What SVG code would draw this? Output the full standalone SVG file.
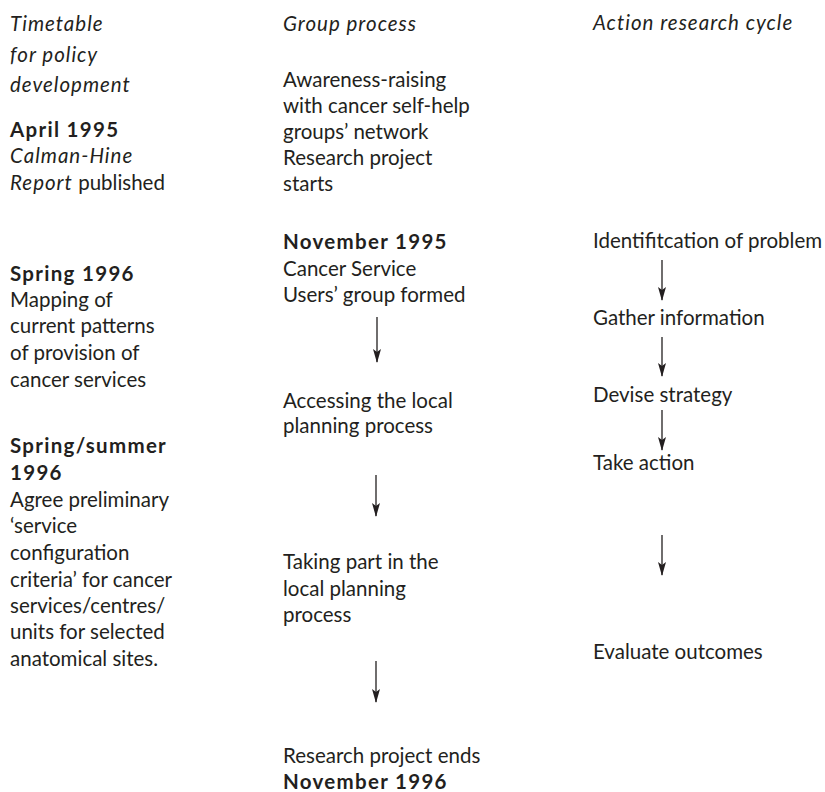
<svg xmlns="http://www.w3.org/2000/svg" width="825" height="792" viewBox="0 0 825 792">
<style>
text{font-family:Lato,"Liberation Sans",sans-serif;font-size:20.5px;fill:#231f20}
.i{font-style:italic;letter-spacing:1px}
.b{font-weight:bold;letter-spacing:1.3px}
.c line{stroke:#231f20;stroke-width:1.3}
</style>
<defs>
<marker id="ad" viewBox="0 0 8 14" refX="4" refY="13" markerWidth="8" markerHeight="14" markerUnits="userSpaceOnUse" orient="0">
<path d="M0,0 L4,3 L8,0 L4,14 Z" fill="#231f20"/>
</marker>
</defs>
<rect width="825" height="792" fill="#fff"/>
<g id="col-timetable">
<g id="h-timetable"><text class="i" x="10" y="31">Timetable</text><text class="i" x="10" y="62">for policy</text><text class="i" x="10" y="92">development</text></g>
<g id="t-april"><text class="b" x="10" y="137">April 1995</text><text x="10" y="163"><tspan class="i">Calman-Hine</tspan></text><text x="10" y="190"><tspan class="i">Report</tspan> published</text></g>
<g id="t-spring"><text class="b" x="10" y="281">Spring 1996</text><text x="10" y="307">Mapping of</text><text x="10" y="333">current patterns</text><text x="10" y="360">of provision of</text><text x="10" y="387">cancer services</text></g>
<g id="t-summer"><text class="b" x="10" y="453">Spring/summer</text><text class="b" x="10" y="480">1996</text><text x="10" y="507">Agree preliminary</text><text x="10" y="533">‘service</text><text x="10" y="560">configuration</text><text x="10" y="587">criteria’ for cancer</text><text x="10" y="613">services/centres/</text><text x="10" y="639">units for selected</text><text x="10" y="666">anatomical sites.</text></g>
</g>
<g id="col-group">
<g id="h-group"><text class="i" x="283" y="31">Group process</text></g>
<g id="g-aware"><text x="283" y="87">Awareness-raising</text><text x="283" y="113">with cancer self-help</text><text x="283" y="139">groups’ network</text><text x="283" y="165">Research project</text><text x="283" y="191">starts</text></g>
<g id="g-nov"><text class="b" x="283" y="249">November 1995</text><text x="283" y="276">Cancer Service</text><text x="283" y="302">Users’ group formed</text></g>
<g id="g-access"><text x="283" y="408">Accessing the local</text><text x="283" y="433">planning process</text></g>
<g id="g-taking"><text x="283" y="569">Taking part in the</text><text x="283" y="596">local planning</text><text x="283" y="622">process</text></g>
<g id="g-end"><text x="283" y="763">Research project ends</text><text class="b" x="283" y="789">November 1996</text></g>
</g>
<g id="col-action">
<g id="h-action"><text class="i" x="593" y="30">Action research cycle</text></g>
<g id="a-ident"><text x="593" y="248">Identifitcation of problem</text></g>
<g id="a-gather"><text x="593" y="325">Gather information</text></g>
<g id="a-devise"><text x="593" y="402">Devise strategy</text></g>
<g id="a-take"><text x="593" y="470">Take action</text></g>
<g id="a-eval"><text x="593" y="659">Evaluate outcomes</text></g>
</g>
<g id="connectors" class="c">
<line x1="377" y1="317" x2="377" y2="362" marker-end="url(#ad)"/>
<line x1="376" y1="475" x2="376" y2="516" marker-end="url(#ad)"/>
<line x1="376" y1="661" x2="376" y2="702" marker-end="url(#ad)"/>
<line x1="662" y1="260" x2="662" y2="300" marker-end="url(#ad)"/>
<line x1="662" y1="337" x2="662" y2="376" marker-end="url(#ad)"/>
<line x1="662" y1="410" x2="662" y2="450" marker-end="url(#ad)"/>
<line x1="662" y1="535" x2="662" y2="575" marker-end="url(#ad)"/>
</g>
</svg>
